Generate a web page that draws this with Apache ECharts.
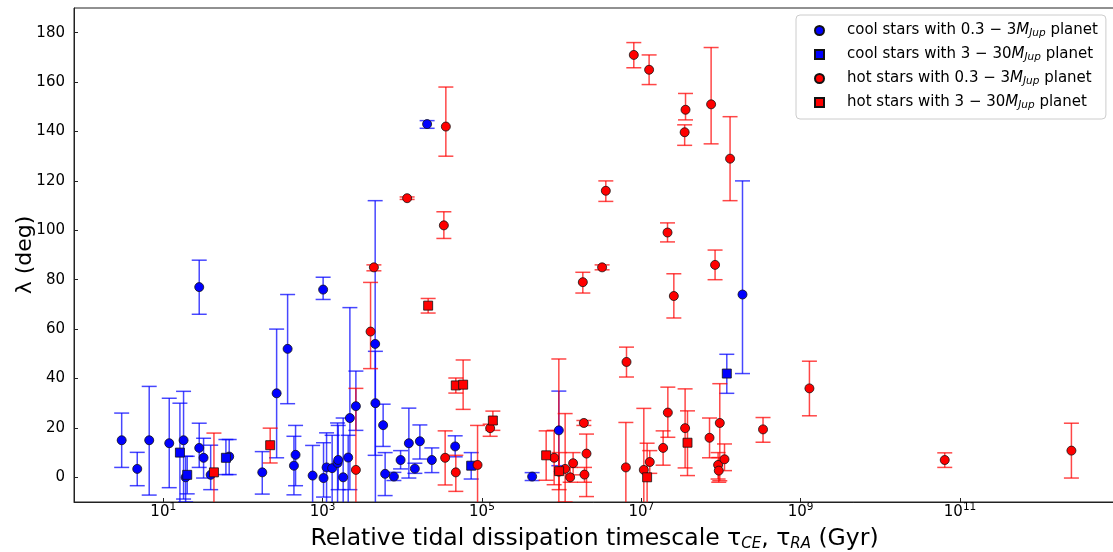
<!DOCTYPE html>
<html>
<head>
<meta charset="utf-8">
<script src="https://cdn.jsdelivr.net/npm/echarts@6/dist/echarts.min.js"></script>
<style>html,body{margin:0;padding:0;background:#fff}#c{width:1113px;height:552px}</style>
</head>
<body>
<div id="c"></div>
<script>
// Each entry: [tau (Gyr), lambda (deg), lower error bound, upper error bound]
const coolSmall = [
  [3.01, 15, 4, 26], [4.72, 3.4, -3.4, 10.1], [6.67, 15, -7.2, 36.8], [11.9, 13.8, -4.2, 32],
  [18.0, 15, -8.8, 34.8], [19.1, 0, -10, 8.5], [28.3, 11.9, 4, 21.9], [32.1, 7.9, -0.3, 15.8],
  [28.3, 77, 66, 87.9], [39.4, 1, -5, 13], [67.3, 8.4, 1.1, 15.3], [175, 2, -6.8, 10.4],
  [265, 34, 7.9, 60], [364, 52, 29.8, 74], [458, 9.1, -3.4, 21], [437, 4.7, -7.1, 16.6],
  [750, 0.7, -12, 12.9], [1016, 76, 72, 81], [1028, -0.3, -8, 14], [1122, 4, -12, 18],
  [1318, 3.7, -12, 17], [1542, 5.8, -12, 22], [1570, 7, -5, 21], [1813, 0, -12, 24],
  [2201, 24, -5, 68.7], [2096, 8, -12, 17], [2618, 28.8, 19, 43], [4571, 54, 8.9, 112],
  [4600, 30, -15, 51], [5754, 21.1, 12.5, 29.6], [6095, 1.4, -7.4, 10], [7852, 0.3, -1.3, 2],
  [9527, 7, 3.4, 10.8], [12100, 13.8, -0.3, 28], [14390, 3.5, 1.6, 5.7], [16630, 14.6, 7.4, 21.2],
  [20510, 143, 141.3, 144.4], [23500, 7, 1.9, 11.9], [46130, 12.5, 8.3, 16.8], [426600, 0.3, -1.3, 1.9],
  [922600, 19, 4.7, 34.9], [1.862e8, 74, 42, 120]
];
const coolLarge = [
  [16.2, 10, -12, 30], [20.0, 1, -6.7, 8.5], [61.2, 7.9, 1.1, 15.3], [73280, 4.7, -0.7, 10],
  [1.183e8, 42, 34, 49.8]
];
const hotSmall = [
  [2618, 3, -12, 36], [4000, 59, 44, 78.9], [4406, 85, 83.6, 86], [11510, 113, 112.5, 113.5],
  [33270, 102, 96.7, 107.5], [35240, 142, 130, 158], [34530, 7.9, -3.1, 18.8], [46990, 2, -5.7, 8.9],
  [88100, 5, -15, 21], [126800, 19.9, 16.6, 21.5], [805400, 7.9, -3, 19], [922600, 2.3, -15, 47.9],
  [1.107e6, 3.4, -10, 25.8], [1.279e6, 0, -2, 4], [1.394e6, 5.7, 1, 10], [1.901e6, 22, 21, 23],
  [2.053e6, 9.6, -7.8, 17.5], [1.936e6, 1.1, -2, 4], [1.845e6, 79, 74.6, 83], [3.221e6, 85, 84, 86],
  [3.586e6, 116, 111.7, 120], [6.4e6, 4, -15, 22.2], [6.52e6, 46.7, 40.6, 52.7], [8.05e6, 171, 165.8, 176],
  [1.075e7, 3, -15, 27.9], [1.277e7, 6.2, 1.6, 10.8], [1.253e7, 165, 159, 171], [1.879e7, 11.9, 4.9, 18.8],
  [2.133e7, 99.1, 95.3, 103], [2.153e7, 26.2, 16.2, 36.5], [2.56e7, 73.4, 64.5, 82.4], [3.546e7, 19.9, 3.8, 35.8],
  [3.589e7, 148.8, 144.7, 155.4], [3.5e7, 139.7, 134.4, 142.7], [7.18e7, 16, 7.9, 24], [7.52e7, 151, 135, 174],
  [8.43e7, 86, 80, 92], [9.2e7, 5, -0.7, 10], [9.38e7, 2.7, -2, 8], [9.66e7, 22, -1.4, 37.9],
  [1.107e8, 7.3, 2.7, 13.5], [1.3e8, 129, 112, 146], [3.37e8, 19.4, 14.2, 24.2], [1.288e9, 36, 24.9, 47],
  [6.43e10, 7, 4, 9.9], [2.5e12, 10.8, -0.3, 21.9]
];
const hotLarge = [
  [43.3, 2, -15, 17.9], [220, 13, 5.8, 19.9], [21130, 69.5, 66.5, 72.4], [46990, 37.2, 34.1, 40.2],
  [58080, 37.5, 27.5, 47.5], [137100, 23, 19, 26.8], [639700, 8.9, -1.2, 18.8], [930000, 2.5, -5, 10],
  [1.183e7, 0, -15, 13.8], [3.8e7, 14, 0.7, 26.9]
];
const seriesNames = [
  'cool stars with 0.3 − 3M_Jup planet', 'cool stars with 3 − 30M_Jup planet',
  'hot stars with 0.3 − 3M_Jup planet', 'hot stars with 3 − 30M_Jup planet'
];
const legendRich = [
  '{t|cool stars with 0.3 − 3}{m|M}{s|Jup}{t| planet}',
  '{t|cool stars with 3 − 30}{m|M}{s|Jup}{t| planet}',
  '{t|hot stars with 0.3 − 3}{m|M}{s|Jup}{t| planet}',
  '{t|hot stars with 3 − 30}{m|M}{s|Jup}{t| planet}'
];
const yTicks = [0, 20, 40, 60, 80, 100, 120, 140, 160, 180];
const xTicks = [10, 1e3, 1e5, 1e7, 1e9, 1e11];

const FONT = 'DejaVu Sans';
const BLUE = '#0000ff', RED = '#ff0000';
const BLUE_BAR = 'rgba(0,0,255,0.72)', RED_BAR = 'rgba(255,0,0,0.72)';

function errSeries(data, color) {
  return {
    type: 'custom', data: data, clip: true, z: 2, silent: true,
    encode: { x: 0, y: [2, 3] },
    renderItem: function (params, api) {
      const x = api.value(0);
      const lo = api.coord([x, api.value(2)]);
      const hi = api.coord([x, api.value(3)]);
      const h = 7.5;
      const st = { stroke: color, lineWidth: 1.5, fill: null };
      return {
        type: 'group', children: [
          { type: 'line', shape: { x1: lo[0], y1: lo[1], x2: hi[0], y2: hi[1] }, style: st },
          { type: 'line', shape: { x1: lo[0] - h, y1: lo[1], x2: lo[0] + h, y2: lo[1] }, style: st },
          { type: 'line', shape: { x1: hi[0] - h, y1: hi[1], x2: hi[0] + h, y2: hi[1] }, style: st }
        ]
      };
    }
  };
}
function ptSeries(name, data, color, symbol) {
  return {
    name: name, type: 'scatter', z: 5, symbol: symbol, symbolSize: 9,
    data: data.map(d => [d[0], d[1]]),
    itemStyle: { color: color, borderColor: '#111', borderWidth: 0.8, opacity: 1 },
    clip: true
  };
}

const chart = echarts.init(document.getElementById('c'), null, { renderer: 'canvas' });
chart.setOption({
  animation: false,
  textStyle: { fontFamily: FONT },
  grid: {
    left: 74, right: -2, top: 8, bottom: 50, show: true, borderColor: '#222', borderWidth: 1,
    outerBoundsMode: 'none', containLabel: false
  },
  legend: {
    orient: 'vertical', left: 796, top: 15,
    data: [
      { name: seriesNames[0], icon: 'circle' }, { name: seriesNames[1], icon: 'rect' },
      { name: seriesNames[2], icon: 'circle' }, { name: seriesNames[3], icon: 'rect' }
    ],
    itemWidth: 9, itemHeight: 9, itemGap: 8,
    padding: [8, 8, 8, 18],
    borderColor: '#cccccc', borderWidth: 1, borderRadius: 4, backgroundColor: 'rgba(255,255,255,0.8)',
    formatter: function (name) { return legendRich[seriesNames.indexOf(name)]; },
    textStyle: {
      fontFamily: FONT, color: '#000', padding: [0, 0, 0, 18],
      rich: {
        t: { fontSize: 15, fontFamily: FONT, lineHeight: 17 },
        m: { fontSize: 15, fontFamily: FONT, fontStyle: 'italic', lineHeight: 17 },
        s: { fontSize: 10.5, fontFamily: FONT, fontStyle: 'italic', lineHeight: 10, verticalAlign: 'bottom' }
      }
    }
  },
  xAxis: {
    type: 'log', logBase: 10, min: 0.759, max: 8.81e12,
    name: '{t|Relative tidal dissipation timescale τ}{s|CE}{t|, τ}{s|RA}{t| (Gyr)}',
    nameLocation: 'middle', nameGap: 24,
    nameTextStyle: {
      rich: {
        t: { fontSize: 23.5, fontFamily: FONT, color: '#000', lineHeight: 26 },
        s: { fontSize: 15, fontFamily: FONT, fontStyle: 'italic', color: '#000', lineHeight: 13, verticalAlign: 'bottom' }
      }
    },
    splitLine: { show: false }, minorTick: { show: false },
    axisLine: { show: true, onZero: false, lineStyle: { color: '#222', width: 1 } },
    axisTick: { show: true, inside: true, length: 4, lineStyle: { color: '#222' }, customValues: xTicks },
    axisLabel: {
      customValues: xTicks, margin: 0, color: '#000',
      formatter: function (v) { return '{b|10}{e|' + Math.round(Math.log10(v)) + '}'; },
      rich: {
        b: { fontSize: 15, fontFamily: FONT, color: '#000', lineHeight: 20 },
        e: { fontSize: 10.5, fontFamily: FONT, color: '#000', lineHeight: 12, verticalAlign: 'top' }
      }
    }
  },
  yAxis: {
    type: 'value', min: -10, max: 190,
    name: 'λ (deg)', nameLocation: 'middle', nameGap: 49, nameRotate: 90, nameMoveOverlap: false,
    nameTextStyle: { fontSize: 22, fontFamily: FONT, color: '#000', verticalAlign: 'middle' },
    splitLine: { show: false },
    axisLine: { show: true, onZero: false, lineStyle: { color: '#222', width: 1 } },
    axisTick: { show: true, inside: true, length: 4, lineStyle: { color: '#222' }, customValues: yTicks },
    axisLabel: { customValues: yTicks, fontSize: 15, fontFamily: FONT, color: '#000', margin: 9 }
  },
  series: [
    errSeries(coolSmall, BLUE_BAR), errSeries(coolLarge, BLUE_BAR),
    errSeries(hotSmall, RED_BAR), errSeries(hotLarge, RED_BAR),
    ptSeries(seriesNames[0], coolSmall, BLUE, 'circle'),
    ptSeries(seriesNames[1], coolLarge, BLUE, 'rect'),
    ptSeries(seriesNames[2], hotSmall, RED, 'circle'),
    ptSeries(seriesNames[3], hotLarge, RED, 'rect')
  ]
});
</script>
</body>
</html>
